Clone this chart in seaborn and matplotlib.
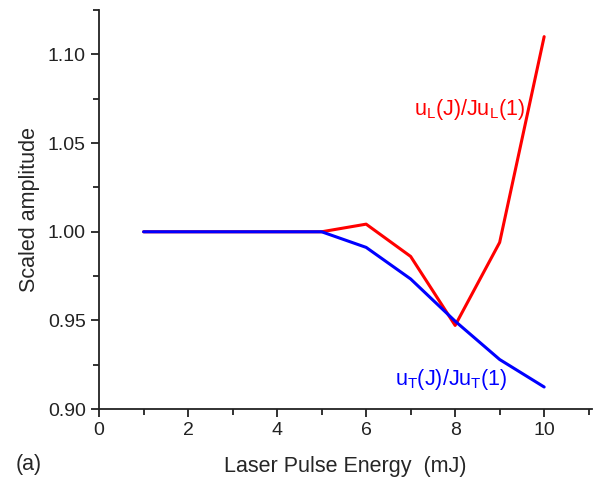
import numpy as np
import pandas as pd
import matplotlib
matplotlib.use('Agg')
import matplotlib.pyplot as plt
import seaborn as sns
from matplotlib.ticker import MultipleLocator

# Data
energy = [1, 2, 3, 4, 5, 6, 7, 8, 9, 10]
u_long = [1.000, 1.000, 1.000, 1.000, 1.000, 1.0043, 0.9861, 0.9472, 0.9940, 1.1100]
u_trans = [1.000, 1.000, 1.000, 1.000, 1.000, 0.9912, 0.9734, 0.9496, 0.9280, 0.9125]

df = pd.DataFrame({'energy': energy, 'long': u_long, 'trans': u_trans})

sns.set_style('ticks')
plt.rcParams['font.family'] = ['Liberation Sans', 'DejaVu Sans']
plt.rcParams['mathtext.fontset'] = 'custom'
plt.rcParams['mathtext.rm'] = 'Liberation Sans'

fig = plt.figure(figsize=(5.97, 4.78), dpi=100)
ax = fig.add_axes([0.166, 0.144, 0.826, 0.835])

sns.lineplot(data=df, x='energy', y='long', color='#ff0000', linewidth=2.2, ax=ax)
sns.lineplot(data=df, x='energy', y='trans', color='#0000ff', linewidth=2.2, ax=ax)

ax.set_xlim(0, 11.08)
ax.set_ylim(0.90, 1.125)
ax.xaxis.set_major_locator(MultipleLocator(2))
ax.xaxis.set_minor_locator(MultipleLocator(1))
ax.yaxis.set_major_locator(MultipleLocator(0.05))
ax.yaxis.set_minor_locator(MultipleLocator(0.025))
ax.yaxis.set_major_formatter(matplotlib.ticker.FormatStrFormatter('%.2f'))

sns.despine(ax=ax)
for s in ['left', 'bottom']:
    ax.spines[s].set_linewidth(1.3)
    ax.spines[s].set_color('#222222')
ax.tick_params(which='major', direction='out', length=6, width=1.3, labelsize=14, colors='#222222')
ax.tick_params(which='minor', direction='out', length=4, width=1.3, colors='#222222')

ax.set_xlabel('Laser Pulse Energy  (mJ)', fontsize=15.5, labelpad=12)
ax.set_ylabel('Scaled amplitude', fontsize=15.5, labelpad=6)

ax.text(7.08, 1.069, r'u$_{\rm L}$(J)/Ju$_{\rm L}$(1)', color='#ff0000', fontsize=15.5,
        ha='left', va='center')
ax.text(6.65, 0.917, r'u$_{\rm T}$(J)/Ju$_{\rm T}$(1)', color='#0000ff', fontsize=15.5,
        ha='left', va='center')
fig.text(0.027, 0.017, '(a)', fontsize=15.5, ha='left', va='baseline')

fig.savefig('out.png', dpi=100)
